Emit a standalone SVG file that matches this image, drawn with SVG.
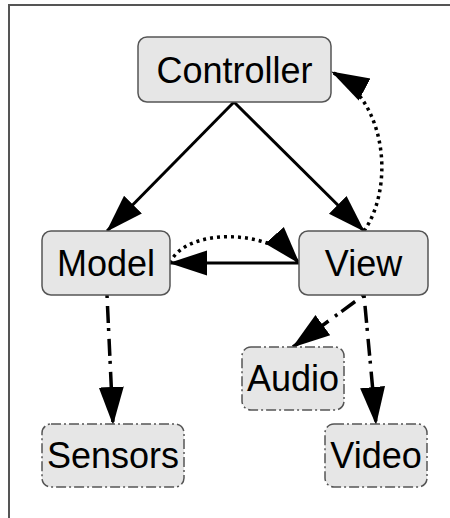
<svg xmlns="http://www.w3.org/2000/svg" width="450" height="518" viewBox="0 0 450 518">
  <style>
    .box { fill: #e6e6e6; stroke: #555; stroke-width: 1.5; }
    .box.ext { stroke-dasharray: 10 3 2 3; }
    .lbl { font-family: "Liberation Sans", Arial, sans-serif; font-size: 36px; fill: #000; text-anchor: middle; }
    .edge { fill: none; stroke: #000; stroke-width: 3; }
    .dot { stroke-width: 3.5; stroke-dasharray: 3 4; }
    .dash { stroke-width: 3.5; stroke-dasharray: 3 8 17 5; }
  </style>
  <defs>
    <marker id="head" markerUnits="userSpaceOnUse" markerWidth="38" markerHeight="28" viewBox="0 0 38 28" refX="37" refY="14" orient="auto">
      <path d="M0,1.5 L38,14 L0,26.5 Z" fill="#000"/>
    </marker>
  </defs>

  <!-- frame -->
  <path d="M9,518 V5 H450" fill="none" stroke="#555" stroke-width="2"/>

  <g id="connectors">
    <path class="edge" d="M234,102 L107,231" marker-end="url(#head)"/>
    <path class="edge" d="M234,102 L364,231" marker-end="url(#head)"/>
    <path class="edge dot" d="M364,231 C394,188 388,102 332,72" marker-end="url(#head)"/>
    <path class="edge" d="M299,263 L170,263" marker-end="url(#head)"/>
    <path class="edge dot" d="M170,263 C185,228 268,228 299,263" marker-end="url(#head)"/>
    <path class="edge dash" d="M107,295 L113,424" marker-end="url(#head)"/>
    <path class="edge dash" d="M364,295 L293,347" marker-end="url(#head)"/>
    <path class="edge dash" d="M364,295 L376,424" marker-end="url(#head)"/>
  </g>

  <g id="controller">
    <rect class="box" x="138" y="37" width="193" height="65" rx="9"/>
    <text class="lbl" x="234.5" y="83">Controller</text>
  </g>
  <g id="model">
    <rect class="box" x="42" y="231" width="128" height="64" rx="9"/>
    <text class="lbl" x="106" y="276">Model</text>
  </g>
  <g id="view">
    <rect class="box" x="299" y="231" width="129" height="64" rx="9"/>
    <text class="lbl" x="363.5" y="276">View</text>
  </g>
  <g id="audio">
    <rect class="box ext" x="242" y="347" width="102" height="63" rx="9"/>
    <text class="lbl" x="293" y="391">Audio</text>
  </g>
  <g id="sensors">
    <rect class="box ext" x="42" y="424" width="142" height="63" rx="9"/>
    <text class="lbl" x="113" y="468">Sensors</text>
  </g>
  <g id="video">
    <rect class="box ext" x="325" y="424" width="102" height="63" rx="9"/>
    <text class="lbl" x="376" y="468">Video</text>
  </g>
</svg>
